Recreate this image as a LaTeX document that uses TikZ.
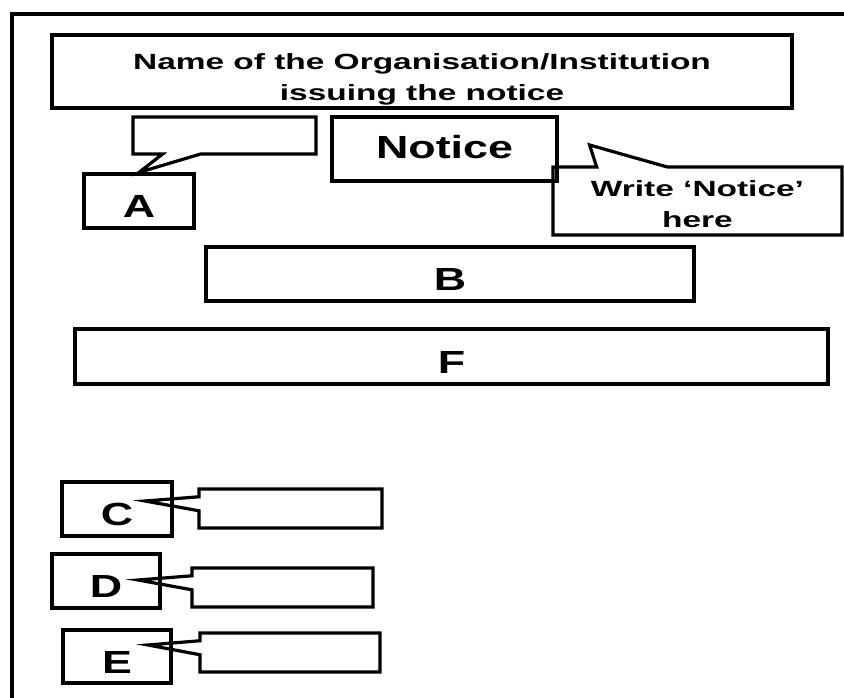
\documentclass[tikz,border=0pt]{standalone}
\usepackage{fontspec}
\setmainfont{Liberation Sans}
\newfontfamily\bigsans[FakeStretch=1.4]{Liberation Sans}
\newfontfamily\smallsans[FakeStretch=1.52]{Liberation Sans}
\usetikzlibrary{shapes.callouts,calc}

\tikzset{
  box/.style={draw=black, line width=2.4pt, inner sep=0pt},
  letterbox/.style={box, font=\bigsans\bfseries\fontsize{24}{28}\selectfont, text height=25.5pt, text depth=0pt},
  callbox/.style={box, rectangle callout},
  smalltext/.style={font=\smallsans\bfseries\fontsize{16.5}{23.25}\selectfont, align=center, text depth=0pt}
}

\begin{document}
\begin{tikzpicture}[x=0.75pt,y=-0.75pt]

     \useasboundingbox (0,0) rectangle (844,698);

     % outer frame
     \draw [draw=black, line width=2.4pt] (12,698) -- (12,14) -- (844,14);

     % heading
     \node[box, smalltext, text height=44.25pt, minimum width=555pt, minimum height=54.75pt] (Title) at (422,71.5){Name of the Organisation/Institution\\issuing the notice};

     \node[letterbox, minimum width=82.5pt, minimum height=40.5pt] (A) at (139,201){A};
     \node[callbox, callout absolute pointer={(A.north)}, callout pointer width=28.5pt, minimum width=137.25pt, minimum height=27.75pt] (Acall) at (224.5,135.5){};

     \node[box, font=\bigsans\bfseries\fontsize{24}{28}\selectfont, text height=14pt, text depth=0pt, minimum width=168.75pt, minimum height=48pt] (Notice) at (444.5,149){Notice};
     \node[callbox, smalltext, text height=40.5pt, callout absolute pointer={($(Notice.east)+(31,-4)$)}, callout pointer width=53pt, minimum width=216.75pt, minimum height=51pt] (Write) at (697.5,201){Write ‘Notice’\\here};

     % main body
     \node[letterbox, minimum width=366pt, minimum height=40.5pt] (B) at (450,274){B};
     \node[letterbox, minimum width=564.75pt, minimum height=41.25pt] (F) at (451.5,356.5){F};

     % closing
     \node[letterbox, minimum width=82.5pt, minimum height=40.5pt] (C) at (117,509){C};
     \node[callbox, callout absolute pointer={($(C.center)+(28,-8)$)}, callout pointer width=10.5pt, minimum width=137.25pt, minimum height=29.25pt] (Ccall) at (290.5,508.5){};

     \node[letterbox, minimum width=81pt, minimum height=40.5pt] (D) at (106,581){D};
     \node[callbox, callout absolute pointer={($(D.center)+(32,-1)$)}, callout pointer width=10.5pt, minimum width=135.75pt, minimum height=29.25pt] (Dcall) at (282.5,587.5){};

     \node[letterbox, minimum width=81pt, minimum height=39.75pt] (E) at (117,656.5){E};
     \node[callbox, callout absolute pointer={($(E.center)+(31,-11.5)$)}, callout pointer width=10.5pt, minimum width=135pt, minimum height=29.25pt] (Ecall) at (290,652.5){};

\end{tikzpicture}
\end{document}
